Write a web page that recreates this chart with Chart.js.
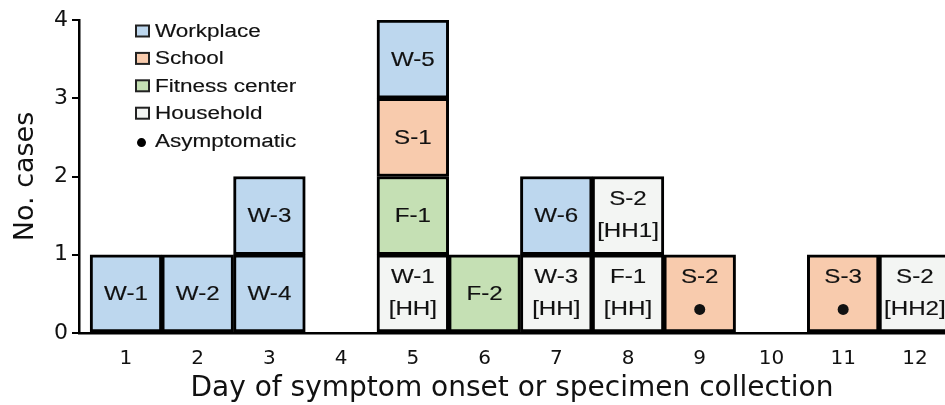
<!DOCTYPE html>
<html>
<head>
<meta charset="utf-8">
<script src="https://cdn.jsdelivr.net/npm/chart.js@4"></script>
<style>
  html, body { margin: 0; padding: 0; background: #fff; }
  #wrap { width: 945px; height: 405px; }
</style>
</head>
<body>
<div id="wrap"><canvas id="chart"></canvas></div>
<script>
// days on the x axis
const days = [1, 2, 3, 4, 5, 6, 7, 8, 9, 10, 11, 12];
const yTicks = [0, 1, 2, 3, 4];

// setting of each case, by stack level (W workplace, S school, F fitness, H household)
const level1Setting = ['W', 'W', 'W', null, 'H', 'F', 'H', 'H', 'S', null, 'S', 'H'];
const level1Label = ['W-1', 'W-2', 'W-4', null, 'W-1\n[HH]', 'F-2', 'W-3\n[HH]', 'F-1\n[HH]', 'S-2', null, 'S-3', 'S-2\n[HH2]'];
const level1Asym = [0, 0, 0, 0, 0, 0, 0, 0, 1, 0, 1, 0];

const level2Setting = [null, null, 'W', null, 'F', null, 'W', 'H', null, null, null, null];
const level2Label = [null, null, 'W-3', null, 'F-1', null, 'W-6', 'S-2\n[HH1]', null, null, null, null];

const level3Setting = [null, null, null, null, 'S', null, null, null, null, null, null, null];
const level3Label = [null, null, null, null, 'S-1', null, null, null, null, null, null, null];

const level4Setting = [null, null, null, null, 'W', null, null, null, null, null, null, null];
const level4Label = [null, null, null, null, 'W-5', null, null, null, null, null, null, null];

const legendNames = ['Workplace', 'School', 'Fitness center', 'Household', 'Asymptomatic'];
const legendKeys = ['W', 'S', 'F', 'H', 'dot'];

const colors = { W: '#bdd7ee', S: '#f8cbad', F: '#c5e0b4', H: '#f3f5f3' };

function makeLevel(settings, labels, asym) {
  const pts = [], bg = [], txt = [], dots = [];
  for (let i = 0; i < days.length; i++) {
    if (!settings[i]) continue;
    pts.push({ x: days[i], y: 1 });
    bg.push(colors[settings[i]]);
    txt.push(labels[i]);
    dots.push(asym ? asym[i] : 0);
  }
  return {
    data: pts,
    backgroundColor: bg,
    borderColor: '#000',
    borderWidth: 3,
    borderSkipped: false,
    barPercentage: 1,
    categoryPercentage: 1,
    caseLabels: txt,
    asym: dots
  };
}

// text stretched sideways like the original figure
function wideText(ctx, text, x, y, sx) {
  ctx.save();
  ctx.translate(x, y);
  ctx.scale(sx, 1);
  ctx.strokeText(text, 0, 0);
  ctx.fillText(text, 0, 0);
  ctx.restore();
}

const boxLabels = {
  id: 'boxLabels',
  afterDatasetsDraw(chart) {
    const ctx = chart.ctx;
    ctx.save();
    ctx.beginPath();
    ctx.rect(chart.chartArea.left, 0, chart.chartArea.right - chart.chartArea.left, chart.height);
    ctx.clip();
    ctx.fillStyle = '#111';
    ctx.strokeStyle = '#111';
    ctx.lineWidth = 0.15;
    ctx.font = '21px "Liberation Sans", Arial, sans-serif';
    ctx.textAlign = 'center';
    ctx.textBaseline = 'middle';
    const sx = 1.15;
    chart.data.datasets.forEach((ds, di) => {
      const meta = chart.getDatasetMeta(di);
      meta.data.forEach((el, i) => {
        const cx = el.x;
        const cy = (el.y + el.base) / 2;
        const lines = ds.caseLabels[i].split('\n');
        if (ds.asym[i]) {
          wideText(ctx, lines[0], cx, cy - 16, sx);
          ctx.beginPath();
          ctx.arc(cx, cy + 16, 5.5, 0, Math.PI * 2);
          ctx.fill();
        } else if (lines.length === 2) {
          wideText(ctx, lines[0], cx, cy - 16, sx);
          wideText(ctx, lines[1], cx, cy + 16, sx);
        } else {
          wideText(ctx, lines[0], cx, cy + 1, sx);
        }
      });
    });
    ctx.restore();

    // legend
    ctx.save();
    ctx.font = '18px "Liberation Sans", Arial, sans-serif';
    ctx.textAlign = 'left';
    ctx.textBaseline = 'middle';
    legendNames.forEach((name, i) => {
      const y = 31 + i * 27.4;
      if (legendKeys[i] === 'dot') {
        ctx.fillStyle = '#000';
        ctx.beginPath();
        ctx.arc(141.5, y + 2, 4.5, 0, Math.PI * 2);
        ctx.fill();
      } else {
        ctx.fillStyle = colors[legendKeys[i]];
        ctx.fillRect(136, y - 5.5, 13, 11);
        ctx.strokeStyle = '#222';
        ctx.lineWidth = 2;
        ctx.strokeRect(136, y - 5.5, 13, 11);
      }
      ctx.fillStyle = '#111';
      ctx.strokeStyle = '#111';
      ctx.lineWidth = 0.15;
      wideText(ctx, name, 155, y + 1, 1.25);
    });
    ctx.restore();
  }
};

new Chart(document.getElementById('chart'), {
  type: 'bar',
  data: {
    datasets: [
      makeLevel(level1Setting, level1Label, level1Asym),
      makeLevel(level2Setting, level2Label),
      makeLevel(level3Setting, level3Label),
      makeLevel(level4Setting, level4Label)
    ]
  },
  options: {
    responsive: true,
    maintainAspectRatio: false,
    animation: false,
    layout: { padding: { top: 20, left: 0, right: 0, bottom: 0 } },
    plugins: { legend: { display: false }, tooltip: { enabled: false } },
    scales: {
      x: {
        type: 'linear',
        stacked: true,
        offset: false,
        min: 0.345,
        max: 12.42,
        afterBuildTicks: (s) => { s.ticks = days.map(v => ({ value: v })); },
        afterFit: (s) => { s.height = 72; },
        grid: { display: false, drawTicks: false, offset: false },
        border: { color: '#000', width: 2.5 },
        ticks: {
          color: '#111',
          font: { family: '"DejaVu Sans", sans-serif', size: 20 },
          padding: 14,
          maxRotation: 0,
          autoSkip: false
        },
        title: {
          display: true,
          text: 'Day of symptom onset or specimen collection',
          color: '#111',
          font: { family: '"DejaVu Sans", sans-serif', size: 28 },
          padding: { top: 0, bottom: -1 }
        }
      },
      y: {
        stacked: true,
        min: 0,
        max: 4,
        afterBuildTicks: (s) => { s.ticks = yTicks.map(v => ({ value: v })); },
        afterFit: (s) => { s.width = 79; },
        grid: { drawOnChartArea: false, color: '#000', lineWidth: 2, tickLength: 7 },
        border: { color: '#000', width: 2.5 },
        ticks: {
          color: '#111',
          font: { family: '"DejaVu Sans", sans-serif', size: 22 },
          padding: 4
        },
        title: {
          display: true,
          text: 'No. cases',
          color: '#111',
          font: { family: '"DejaVu Sans", sans-serif', size: 27 },
          padding: { top: 10, bottom: 0 }
        }
      }
    }
  },
  plugins: [boxLabels]
});
</script>
</body>
</html>
